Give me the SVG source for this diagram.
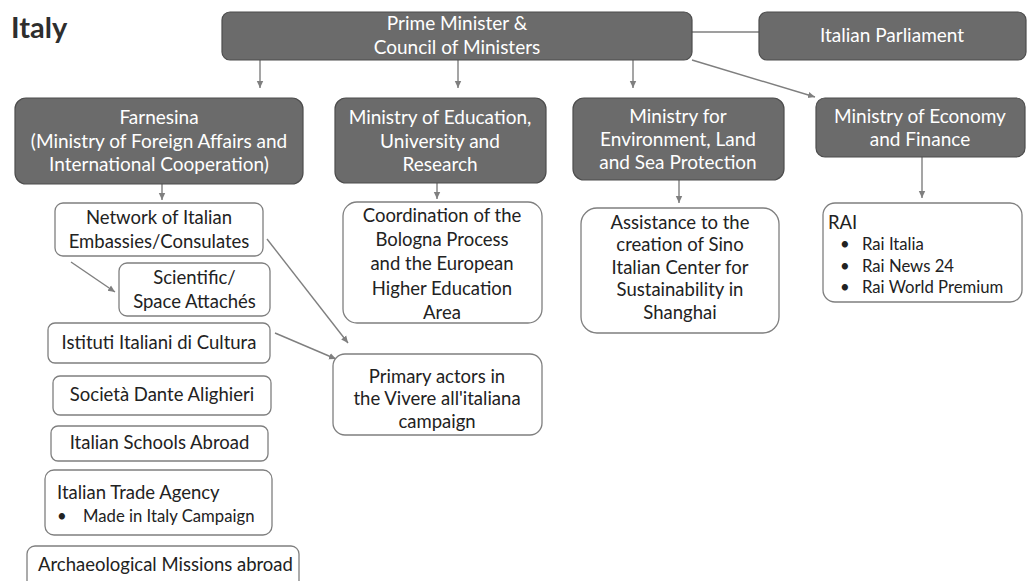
<svg xmlns="http://www.w3.org/2000/svg" width="1027" height="581" viewBox="0 0 1027 581">
<defs>
<style>
.dark{fill:#6b6b6b;stroke:#4d4d4d;stroke-width:1.2}
.light{fill:#ffffff;stroke:#7f7f7f;stroke-width:1.3}
.wt{font-family:Lato,"Liberation Sans",sans-serif;font-size:19px;fill:#ffffff;text-anchor:middle}
.bt{font-family:Lato,"Liberation Sans",sans-serif;font-size:18.5px;fill:#222222;text-anchor:middle}
.bl{font-family:Lato,"Liberation Sans",sans-serif;font-size:18.5px;fill:#222222}
.sm{font-size:16.7px}
.con{stroke:#7f7f7f;stroke-width:1.4;fill:none}
</style>
<marker id="ah" markerWidth="8" markerHeight="8" refX="7" refY="4" orient="auto" markerUnits="userSpaceOnUse">
<path d="M0,0.8 L7,4 L0,7.2 Z" fill="#7f7f7f"/>
</marker>
</defs>
<rect width="1027" height="581" fill="#ffffff"/>
<text x="11" y="38" font-family="Lato,'Liberation Sans',sans-serif" font-size="29" font-weight="bold" fill="#2e2e2e">Italy</text>

<g id="connectors">
<line class="con" x1="692" y1="32" x2="759" y2="32"/>
<line class="con" x1="260" y1="60" x2="260" y2="88" marker-end="url(#ah)"/>
<line class="con" x1="458" y1="60" x2="458" y2="88" marker-end="url(#ah)"/>
<line class="con" x1="633" y1="60" x2="633" y2="88" marker-end="url(#ah)"/>
<line class="con" x1="692" y1="60" x2="815" y2="97" marker-end="url(#ah)"/>
<line class="con" x1="162" y1="184" x2="162" y2="200" marker-end="url(#ah)"/>
<line class="con" x1="437" y1="183" x2="437" y2="199" marker-end="url(#ah)"/>
<line class="con" x1="679" y1="180" x2="679" y2="203" marker-end="url(#ah)"/>
<line class="con" x1="922" y1="157" x2="922" y2="198" marker-end="url(#ah)"/>
<line class="con" x1="71" y1="262" x2="115" y2="292" marker-end="url(#ah)"/>
<line class="con" x1="267" y1="239" x2="348" y2="343" marker-end="url(#ah)"/>
<line class="con" x1="275" y1="333" x2="336" y2="359" marker-end="url(#ah)"/>
</g>

<g id="pm">
<rect class="dark" x="222" y="12" width="470" height="48" rx="8"/>
<text class="wt" x="457" y="30">Prime Minister &amp;</text>
<text class="wt" x="457" y="54">Council of Ministers</text>
</g>
<g id="parliament">
<rect class="dark" x="759" y="12" width="267" height="48" rx="8"/>
<text class="wt" x="892" y="42">Italian Parliament</text>
</g>

<g id="farnesina">
<rect class="dark" x="15" y="98" width="288" height="86" rx="11"/>
<text class="wt" x="159" y="124">Farnesina</text>
<text class="wt" x="159" y="148">(Ministry of Foreign Affairs and</text>
<text class="wt" x="159" y="171">International Cooperation)</text>
</g>
<g id="education">
<rect class="dark" x="335" y="98" width="211" height="85" rx="11"/>
<text class="wt" x="440" y="124">Ministry of Education,</text>
<text class="wt" x="440" y="148">University and</text>
<text class="wt" x="440" y="171">Research</text>
</g>
<g id="environment">
<rect class="dark" x="573" y="98" width="211" height="82" rx="11"/>
<text class="wt" x="678" y="123">Ministry for</text>
<text class="wt" x="678" y="146">Environment, Land</text>
<text class="wt" x="678" y="169">and Sea Protection</text>
</g>
<g id="economy">
<rect class="dark" x="816" y="98" width="209" height="59" rx="9"/>
<text class="wt" x="920" y="123">Ministry of Economy</text>
<text class="wt" x="920" y="146">and Finance</text>
</g>

<g id="network">
<rect class="light" x="55" y="203" width="208" height="53" rx="8"/>
<text class="bt" x="159" y="224">Network of Italian</text>
<text class="bt" x="159" y="248">Embassies/Consulates</text>
</g>
<g id="scientific">
<rect class="light" x="119" y="263" width="151" height="53" rx="8"/>
<text class="bt" x="194.5" y="284">Scientific/</text>
<text class="bt" x="194.5" y="308">Space Attachés</text>
</g>
<g id="istituti">
<rect class="light" x="48" y="323" width="222" height="40" rx="7"/>
<text class="bt" x="159" y="349">Istituti Italiani di Cultura</text>
</g>
<g id="societa">
<rect class="light" x="53" y="376" width="218" height="39" rx="7"/>
<text class="bt" x="162" y="401">Società Dante Alighieri</text>
</g>
<g id="schools">
<rect class="light" x="51" y="426" width="217" height="35" rx="7"/>
<text class="bt" x="159.5" y="449">Italian Schools Abroad</text>
</g>
<g id="trade">
<rect class="light" x="45" y="470" width="227" height="65" rx="9"/>
<text class="bl" x="57" y="499">Italian Trade Agency</text>
<text class="bl sm" x="57" y="522">•</text>
<text class="bl sm" x="83" y="522">Made in Italy Campaign</text>
</g>
<g id="archaeological">
<rect class="light" x="27" y="546" width="272" height="44" rx="8"/>
<text class="bl" x="38" y="571">Archaeological Missions abroad</text>
</g>

<g id="coordination">
<rect class="light" x="343" y="202" width="199" height="121" rx="14"/>
<text class="bt" x="442" y="222">Coordination of the</text>
<text class="bt" x="442" y="246">Bologna Process</text>
<text class="bt" x="442" y="270">and the European</text>
<text class="bt" x="442" y="295">Higher Education</text>
<text class="bt" x="442" y="319">Area</text>
</g>
<g id="primary">
<rect class="light" x="333" y="354" width="209" height="81" rx="12"/>
<text class="bt" x="437" y="383">Primary actors in</text>
<text class="bt" x="437" y="405">the Vivere all'italiana</text>
<text class="bt" x="437" y="428">campaign</text>
</g>

<g id="assistance">
<rect class="light" x="581" y="208" width="198" height="125" rx="16"/>
<text class="bt" x="680" y="229">Assistance to the</text>
<text class="bt" x="680" y="251">creation of Sino</text>
<text class="bt" x="680" y="274">Italian Center for</text>
<text class="bt" x="680" y="296">Sustainability in</text>
<text class="bt" x="680" y="319">Shanghai</text>
</g>

<g id="rai">
<rect class="light" x="823" y="203" width="199" height="99" rx="12"/>
<text class="bl" x="828" y="229">RAI</text>
<text class="bl sm" x="840" y="250">•</text>
<text class="bl sm" x="862" y="250">Rai Italia</text>
<text class="bl sm" x="840" y="272">•</text>
<text class="bl sm" x="862" y="272">Rai News 24</text>
<text class="bl sm" x="840" y="293">•</text>
<text class="bl sm" x="862" y="293">Rai World Premium</text>
</g>
</svg>
